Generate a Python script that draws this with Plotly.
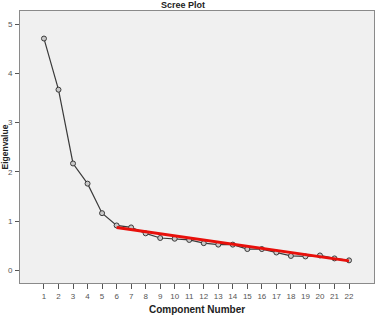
import plotly.graph_objects as go

components = list(range(1, 23))
eigenvalues = [4.71, 3.67, 2.17, 1.76, 1.16, 0.91, 0.87, 0.75, 0.655, 0.64, 0.615,
               0.55, 0.52, 0.52, 0.43, 0.43, 0.36, 0.29, 0.28, 0.30, 0.24, 0.20]
trend_x = [6, 22]
trend_y = [0.87, 0.19]
y_ticks = [0, 1, 2, 3, 4, 5]

fig = go.Figure()
fig.add_trace(go.Scatter(
    x=components, y=eigenvalues, mode="lines+markers",
    line=dict(color="#3a3a3a", width=1.2),
    marker=dict(symbol="circle", size=5, color="#c8c8c8",
                line=dict(color="#3a3a3a", width=1)),
    showlegend=False))
fig.add_trace(go.Scatter(
    x=trend_x, y=trend_y, mode="lines",
    line=dict(color="#e8100b", width=3), showlegend=False))

fig.update_layout(
    width=376, height=320,
    margin=dict(l=20, r=2, t=11, b=37),
    paper_bgcolor="white", plot_bgcolor="#f0f0f0",
    font=dict(family="Liberation Sans, Arial, sans-serif", color="#555"),
    xaxis=dict(range=[-0.65, 23.72], tickmode="array", tickvals=components,
               ticks="outside", ticklen=5, tickcolor="#555", tickwidth=1,
               tickfont=dict(size=8, color="#555"), showgrid=False,
               zeroline=False, showline=True, linecolor="#8a8a8a", linewidth=1,
               mirror=True),
    yaxis=dict(range=[-0.26, 5.27], tickmode="array", tickvals=y_ticks,
               ticks="outside", ticklen=4, tickcolor="#555", tickwidth=1,
               ticklabelstandoff=1,
               tickfont=dict(size=8, color="#555"), showgrid=False,
               zeroline=False, showline=True, linecolor="#8a8a8a", linewidth=1,
               mirror=True),
    annotations=[
        dict(text="<b>Scree Plot</b>", xref="paper", yref="paper",
             x=(183 - 20) / 354, y=(283 - 5.5) / 272, xanchor="center",
             yanchor="middle", showarrow=False, borderpad=0,
             font=dict(size=9, color="#222")),
        dict(text="<b>Component Number</b>", xref="paper", yref="paper",
             x=0.5, y=-26/272, xanchor="center", yanchor="middle",
             showarrow=False, font=dict(size=10, color="#222")),
        dict(text="<b>Eigenvalue</b>", xref="paper", yref="paper",
             x=-15.5/354, y=0.5, xanchor="center", yanchor="middle",
             textangle=-90, showarrow=False, borderpad=0,
             font=dict(size=8.5, color="#222")),
    ],
)

fig.write_html("out.html")
